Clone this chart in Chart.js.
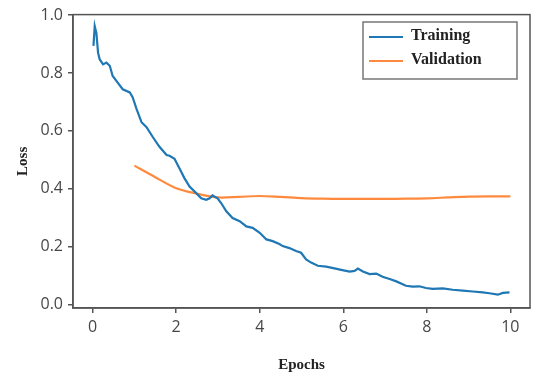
<!DOCTYPE html>
<html>
<head>
<meta charset="utf-8">
<script src="https://cdn.jsdelivr.net/npm/chart.js@4/dist/chart.umd.min.js"></script>
<style>
  html, body { margin: 0; padding: 0; background: #fff; }
  #wrap { width: 540px; height: 377px; position: relative; }
</style>
</head>
<body>
<div id="wrap"><canvas id="lossChart" width="540" height="377"></canvas></div>
<script>
// data
const trainEpochs = [0.02, 0.05, 0.09, 0.13, 0.17, 0.25, 0.33, 0.41, 0.48, 0.60, 0.72, 0.89, 0.96,
  1.05, 1.17, 1.29, 1.44, 1.60, 1.77, 1.84, 1.96, 2.08, 2.20, 2.32, 2.48, 2.60, 2.72, 2.80, 2.87,
  2.99, 3.08, 3.20, 3.35, 3.52, 3.68, 3.83, 4.00, 4.16, 4.31, 4.47, 4.55, 4.71, 4.87, 4.99, 5.11,
  5.23, 5.39, 5.59, 5.79, 5.95, 6.15, 6.27, 6.35, 6.47, 6.63, 6.79, 6.94, 7.11, 7.27, 7.50, 7.66,
  7.82, 7.98, 8.14, 8.38, 8.62, 8.86, 9.10, 9.34, 9.50, 9.70, 9.82, 9.98];
const trainLoss = [0.894, 0.962, 0.938, 0.870, 0.847, 0.830, 0.836, 0.825, 0.790, 0.767, 0.744, 0.733, 0.716,
  0.676, 0.630, 0.613, 0.579, 0.545, 0.517, 0.514, 0.504, 0.470, 0.436, 0.408, 0.385, 0.367, 0.362, 0.367, 0.377,
  0.367, 0.350, 0.322, 0.299, 0.288, 0.270, 0.265, 0.248, 0.225, 0.219, 0.209, 0.202, 0.195, 0.185, 0.179, 0.156,
  0.145, 0.134, 0.131, 0.125, 0.120, 0.114, 0.116, 0.124, 0.114, 0.105, 0.107, 0.096, 0.088, 0.080, 0.065, 0.062,
  0.063, 0.057, 0.054, 0.056, 0.051, 0.048, 0.045, 0.042, 0.039, 0.034, 0.040, 0.042];

const valEpochs = [1, 1.5, 2, 2.5, 3, 3.5, 4, 4.5, 5, 5.5, 6, 6.5, 7, 7.5, 8, 8.5, 9, 9.5, 10];
const valLoss = [0.480, 0.440, 0.402, 0.383, 0.370, 0.372, 0.375, 0.372, 0.368, 0.366, 0.365,
  0.365, 0.365, 0.366, 0.367, 0.370, 0.373, 0.374, 0.374];

const xTicks = [0, 2, 4, 6, 8, 10];
const yTicks = [0.0, 0.2, 0.4, 0.6, 0.8, 1.0];

const seriesNames = ["Training", "Validation"];
const seriesColors = ["#1f77b4", "#ff8a3d"];

const axisColor = "#555";
const tickColor = "#474747";
const tickFont = { family: "Open Sans", size: 16 };
const titleFont = { family: "Liberation Serif", size: 15, weight: "bold" };

// frame on all four sides + boxed legend in the top right
const framePlugin = {
  id: "frame",
  afterDraw(chart) {
    const { ctx, chartArea: a } = chart;
    ctx.save();
    ctx.strokeStyle = axisColor;
    ctx.lineWidth = 1.5;
    ctx.strokeRect(a.left, a.top, a.right - a.left, a.bottom - a.top);

    // legend
    const bx = 363, by = 22, bw = 154, bh = 57;
    ctx.fillStyle = "#fff";
    ctx.fillRect(bx, by, bw, bh);
    ctx.strokeStyle = "#777";
    ctx.strokeRect(bx, by, bw, bh);
    ctx.font = "bold 16px 'Liberation Serif'";
    ctx.textBaseline = "middle";
    seriesNames.forEach((name, i) => {
      const y = by + 14 + i * 24;
      ctx.strokeStyle = seriesColors[i];
      ctx.lineWidth = 2.2;
      ctx.beginPath();
      ctx.moveTo(bx + 6, y + 1);
      ctx.lineTo(bx + 40, y + 1);
      ctx.stroke();
      ctx.fillStyle = "#222";
      ctx.fillText(name, bx + 48, y);
    });
    ctx.restore();
  }
};

new Chart(document.getElementById("lossChart"), {
  type: "line",
  data: {
    datasets: [
      {
        label: seriesNames[0],
        data: trainEpochs.map((x, i) => ({ x, y: trainLoss[i] })),
        borderColor: seriesColors[0],
        borderWidth: 2.2,
        pointRadius: 0,
        tension: 0
      },
      {
        label: seriesNames[1],
        data: valEpochs.map((x, i) => ({ x, y: valLoss[i] })),
        borderColor: seriesColors[1],
        borderWidth: 2.2,
        pointRadius: 0,
        tension: 0.3
      }
    ]
  },
  options: {
    responsive: false,
    animation: false,
    layout: { padding: { left: 0, right: 10, top: 11, bottom: 0 } },
    plugins: { legend: { display: false }, tooltip: { enabled: false } },
    scales: {
      x: {
        type: "linear",
        min: -0.47,
        max: 10.47,
        afterBuildTicks: s => { s.ticks = xTicks.map(v => ({ value: v })); },
        afterFit: s => { s.height = 69; },
        ticks: { color: tickColor, font: tickFont, padding: 5 },
        grid: { drawOnChartArea: false, drawTicks: true, tickLength: 5, color: axisColor, lineWidth: 1.5 },
        border: { display: true, color: axisColor, width: 1.5 },
        title: { display: true, text: "Epochs", color: "#222", font: titleFont, padding: { top: 0, bottom: 3 } }
      },
      y: {
        min: -0.012,
        max: 1.002,
        afterBuildTicks: s => { s.ticks = yTicks.map(v => ({ value: v })); },
        afterFit: s => { s.width = 73; },
        ticks: { color: tickColor, font: tickFont, padding: 5, callback: v => v.toFixed(1) },
        grid: { drawOnChartArea: false, drawTicks: true, tickLength: 5, color: axisColor, lineWidth: 1.5 },
        border: { display: true, color: axisColor, width: 1.5 },
        title: { display: true, text: "Loss", color: "#222", font: titleFont, padding: { top: 14, bottom: 0 } }
      }
    }
  },
  plugins: [framePlugin]
});
</script>
</body>
</html>
